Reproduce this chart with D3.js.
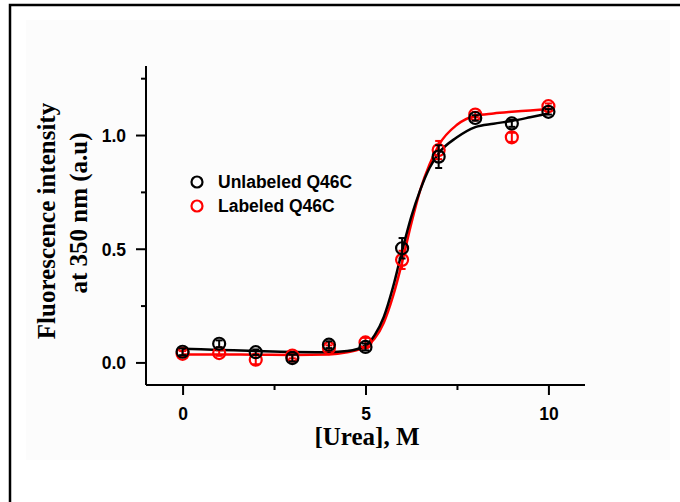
<!DOCTYPE html>
<html><head><meta charset="utf-8">
<script src="https://cdn.jsdelivr.net/npm/d3@7"></script>
<style>body{margin:0;background:#fff}svg{display:block}</style>
</head><body>
<svg id="c" width="680" height="502"></svg>
<script>
// ---- data ----
const urea = [0,1,2,3,4,5,6,7,8,9,10];
const unlabeled = [0.047,0.082,0.045,0.019,0.078,0.068,0.502,0.905,1.075,1.051,1.102];
const unlabeledErr = [0.015,0.015,0.012,0.015,0.015,0.015,0.045,0.05,0.012,0.015,0.012];
const labeled = [0.038,0.041,0.012,0.030,0.063,0.088,0.451,0.934,1.090,0.990,1.127];
const labeledErr = [0.012,0.012,0.02,0.012,0.012,0.02,0.04,0.04,0.012,0.02,0.012];
const fitX = [0,1,2,3,4,4.5,5,5.25,5.5,5.75,6,6.25,6.5,6.75,7,7.5,8,8.5,9,9.5,10];
const unlabeledFit = [0.060,0.055,0.050,0.046,0.045,0.050,0.075,0.12,0.20,0.33,0.49,0.64,0.76,0.855,0.92,0.99,1.035,1.05,1.062,1.078,1.095];
const labeledFit =   [0.035,0.035,0.034,0.033,0.035,0.045,0.068,0.105,0.175,0.29,0.44,0.61,0.76,0.87,0.955,1.045,1.085,1.095,1.102,1.108,1.115];
const xTicks = [0,5,10];
const yTicks = [0.0,0.5,1.0];
const seriesNames = ["Unlabeled Q46C","Labeled Q46C"];
const colors = ["#000000","#ff0000"];

const svg = d3.select("#c");
// outer frame
svg.append("rect").attr("x",26).attr("y",20).attr("width",644).attr("height",440).attr("fill","#fcfcfc");
svg.append("path").attr("d","M10,502 V5 H680").attr("fill","none").attr("stroke","#000").attr("stroke-width",2.5);

const x = d3.scaleLinear().domain([-1,11]).range([146,585]);
const y = d3.scaleLinear().domain([-0.0993,1.3036]).range([385,66]);

const g = svg.append("g");
// axes lines
g.append("line").attr("x1",x(-1)).attr("x2",x(11)).attr("y1",385).attr("y2",385).attr("stroke","#000").attr("stroke-width",2);
g.append("line").attr("x1",146).attr("x2",146).attr("y1",y(1.3036)).attr("y2",385).attr("stroke","#000").attr("stroke-width",2);

const xAxis = d3.axisBottom(x).tickValues(xTicks).tickFormat(d3.format("d")).tickSize(10).tickPadding(5);
const xa = g.append("g").attr("transform","translate(0,385)").call(xAxis);
const xMinor = d3.axisBottom(x).tickValues([2.5,7.5]).tickFormat("").tickSize(5);
const xm = g.append("g").attr("transform","translate(0,385)").call(xMinor);
const yAxis = d3.axisLeft(y).tickValues(yTicks).tickFormat(d3.format(".1f")).tickSize(10).tickPadding(10);
const ya = g.append("g").attr("transform","translate(146,0)").call(yAxis);
const yMinor = d3.axisLeft(y).tickValues([0.25,0.75,1.25]).tickFormat("").tickSize(5);
const ym = g.append("g").attr("transform","translate(146,0)").call(yMinor);
[xa,xm,ya,ym].forEach(a=>{a.select(".domain").remove();a.selectAll("line").attr("stroke","#000").attr("stroke-width",2);});
[xa,ya].forEach(a=>a.selectAll("text").attr("font-family","Liberation Sans, Arial, sans-serif").attr("font-weight","bold").attr("font-size",17.5).attr("fill","#000"));
xa.selectAll("text").attr("dy",0).attr("y",35);
ya.selectAll("text").attr("dy","0.36em");

// axis titles
svg.append("text").attr("x",367).attr("y",445).attr("text-anchor","middle")
  .attr("font-family","Liberation Serif, Times New Roman, serif").attr("font-weight","bold").attr("font-size",25).text("[Urea], M");
const yl = svg.append("text").attr("transform","translate(0,0) rotate(-90)")
  .attr("font-family","Liberation Serif, Times New Roman, serif").attr("font-weight","bold").attr("font-size",25).attr("text-anchor","middle");
yl.append("tspan").attr("x",-221).attr("y",55).text("Fluorescence intensity");
yl.append("tspan").attr("x",-213).attr("y",87).text("at 350 nm (a.u)");

// fits
const line = d3.line().x(d=>x(d[0])).y(d=>y(d[1])).curve(d3.curveMonotoneX);
const fits = [labeledFit, unlabeledFit];
const fitColors = [colors[1], colors[0]];
fits.forEach((f,i)=>{
  g.append("path").attr("d",line(fitX.map((v,j)=>[v,f[j]]))).attr("fill","none")
   .attr("stroke",fitColors[i]).attr("stroke-width",2.5);
});

// points + error bars
function drawSeries(vals, errs, col){
  const s = g.append("g");
  vals.forEach((v,i)=>{
    const cx = x(urea[i]);
    const e = errs[i];
    s.append("circle").attr("cx",cx).attr("cy",y(v)).attr("r",6).attr("fill","none").attr("stroke",col).attr("stroke-width",2.2);
    s.append("line").attr("x1",cx).attr("x2",cx).attr("y1",y(v-e)).attr("y2",y(v+e)).attr("stroke",col).attr("stroke-width",2);
    [v-e,v+e].forEach(t=>s.append("line").attr("x1",cx-3.5).attr("x2",cx+3.5).attr("y1",y(t)).attr("y2",y(t)).attr("stroke",col).attr("stroke-width",2));
  });
}
drawSeries(labeled, labeledErr, colors[1]);
drawSeries(unlabeled, unlabeledErr, colors[0]);

// legend
const leg = svg.append("g");
seriesNames.forEach((n,i)=>{
  const yy = 182 + i*24;
  leg.append("circle").attr("cx",197).attr("cy",yy).attr("r",5.5).attr("fill","none").attr("stroke",colors[i]).attr("stroke-width",2.2);
  leg.append("text").attr("x",218).attr("y",yy).attr("dy","0.36em")
    .attr("font-family","Liberation Sans, Arial, sans-serif").attr("font-weight","bold").attr("font-size",17.5).text(n);
});
</script>
</body></html>
